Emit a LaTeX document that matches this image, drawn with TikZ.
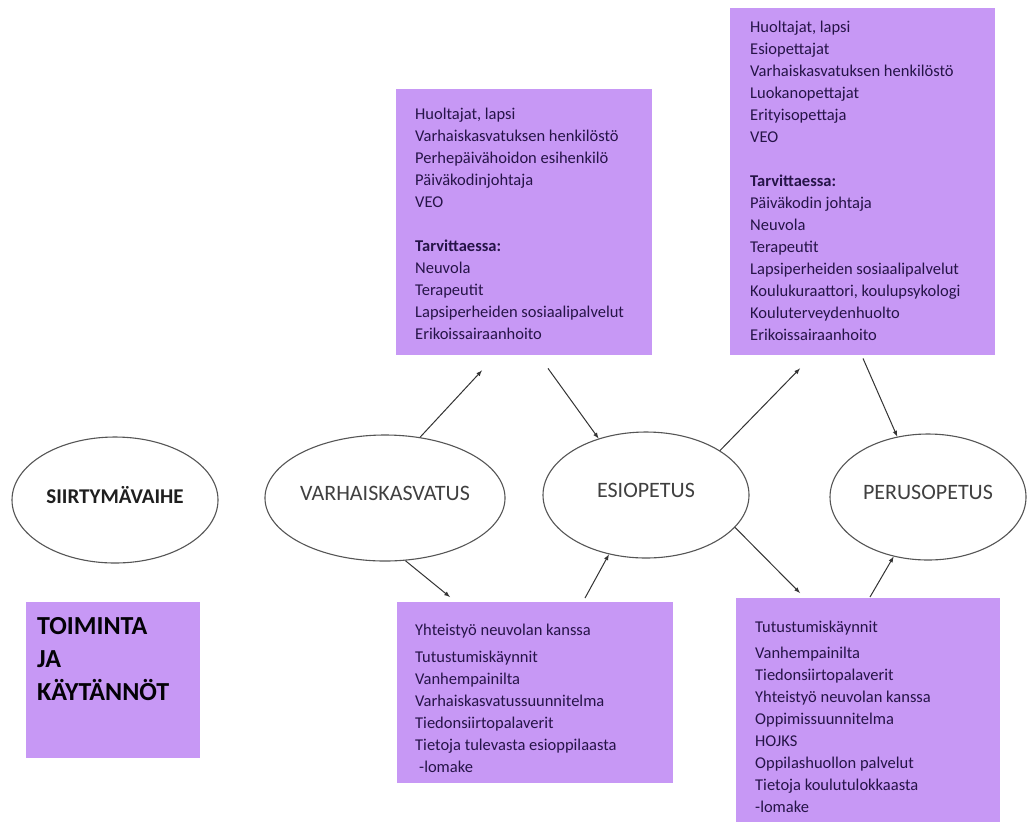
\documentclass[tikz,border=0pt]{standalone}
\usepackage{fontspec}
\setmainfont{Carlito}
\usepackage{tikz}
\usetikzlibrary{positioning,shapes.geometric}

\definecolor{laventeli}{RGB}{199,152,245}
\definecolor{tekstivari}{RGB}{38,20,72}
\definecolor{reunavari}{RGB}{85,85,85}

\tikzset{
  vaihe/.style={ellipse, draw=reunavari, line width=1.1pt, minimum width=206pt, minimum height=126pt,
    inner sep=0pt, text depth=10pt, text=black!75, font=\fontsize{22}{26}\selectfont},
  laatikko/.style={fill=laventeli, inner sep=0pt, anchor=north west},
  laatikkoteksti/.style={align=left, inner sep=0pt, text=tekstivari, font=\fontsize{16.5}{22}\selectfont},
  nuoli/.style={-latex, line width=1pt, black!80},
}

\begin{document}
\begin{tikzpicture}[x=1pt,y=-1pt]
              \useasboundingbox[fill=white] (0,0) rectangle (1027,823);

              %vaiheet
              \node[vaihe, text=black!88, font=\fontsize{21}{25}\selectfont\bfseries] (siirtyma) at (115,500) {SIIRTYMÄVAIHE};
              \node[vaihe] (varhais) at (385,498) {VARHAISKASVATUS};
              \node[vaihe] (esio) at (646,495) {ESIOPETUS};
              \node[vaihe, minimum width=196pt] (perus) at (928,497) {PERUSOPETUS};

              %laatikot
              \node[laatikko, minimum width=256pt, minimum height=266pt] (vkosallistujat) at (396,89) {};
              \node[laatikko, minimum width=265pt, minimum height=347pt] (eoosallistujat) at (730,8) {};
              \node[laatikko, minimum width=276pt, minimum height=181pt] (vktoiminta) at (397,602) {};
              \node[laatikko, minimum width=264pt, minimum height=224pt] (eotoiminta) at (736,598) {};
              \node[laatikko, minimum width=174pt, minimum height=156pt] (toiminta) at (26,602) {};

              %tekstit
              \node[laatikkoteksti, below right=19pt and 19pt of vkosallistujat.north west] (vkosallistujatteksti) {%
                Huoltajat, lapsi\\ Varhaiskasvatuksen henkilöstö\\ Perhepäivähoidon esihenkilö\\
                Päiväkodinjohtaja\\ VEO\\[22pt] \textbf{Tarvittaessa:}\\ Neuvola\\ Terapeutit\\
                Lapsiperheiden sosiaalipalvelut\\ Erikoissairaanhoito};
              \node[laatikkoteksti, below right=13pt and 20pt of eoosallistujat.north west] (eoosallistujatteksti) {%
                Huoltajat, lapsi\\ Esiopettajat\\ Varhaiskasvatuksen henkilöstö\\ Luokanopettajat\\
                Erityisopettaja\\ VEO\\[22pt] \textbf{Tarvittaessa:}\\ Päiväkodin johtaja\\ Neuvola\\
                Terapeutit\\ Lapsiperheiden sosiaalipalvelut\\ Koulukuraattori, koulupsykologi\\
                Kouluterveydenhuolto\\ Erikoissairaanhoito};
              \node[laatikkoteksti, below right=22pt and 18pt of vktoiminta.north west] (vktoimintateksti) {%
                Yhteistyö neuvolan kanssa\\[5pt] Tutustumiskäynnit\\ Vanhempainilta\\
                Varhaiskasvatussuunnitelma\\ Tiedonsiirtopalaverit\\ Tietoja tulevasta esioppilaasta\\
                \hspace{4pt}-lomake};
              \node[laatikkoteksti, below right=23pt and 19pt of eotoiminta.north west] (eotoimintateksti) {%
                Tutustumiskäynnit\\[4pt] Vanhempainilta\\ Tiedonsiirtopalaverit\\ Yhteistyö neuvolan kanssa\\
                Oppimissuunnitelma\\ HOJKS\\ Oppilashuollon palvelut\\ Tietoja koulutulokkaasta\\ -lomake};
              \node[laatikkoteksti, text=black!90!tekstivari, font=\fontsize{26}{33}\selectfont\bfseries,
                below right=15pt and 11pt of toiminta.north west] (toimintateksti) {TOIMINTA\\ JA\\ KÄYTÄNNÖT};

              %ylös
              \draw[nuoli] (varhais.60) -- ([xshift=86pt,yshift=-15pt]vkosallistujat.south west);
              \draw[nuoli] ([xshift=152pt,yshift=-13pt]vkosallistujat.south west) -- (esio.130);
              \draw[nuoli] (esio.31) -- ([xshift=70pt,yshift=-13pt]eoosallistujat.south west);
              \draw[nuoli] ([xshift=133pt,yshift=-3pt]eoosallistujat.south west) -- (perus.117);

              %alas
              \draw[nuoli] (varhais.288) -- ([xshift=53pt,yshift=5pt]vktoiminta.north west);
              \draw[nuoli] ([xshift=188pt,yshift=4pt]vktoiminta.north west) -- (esio.238);
              \draw[nuoli] (esio.-20) -- ([xshift=64pt,yshift=5pt]eotoiminta.north west);
              \draw[nuoli] ([xshift=134pt,yshift=1pt]eotoiminta.north west) -- (perus.240);

\end{tikzpicture}
\end{document}
